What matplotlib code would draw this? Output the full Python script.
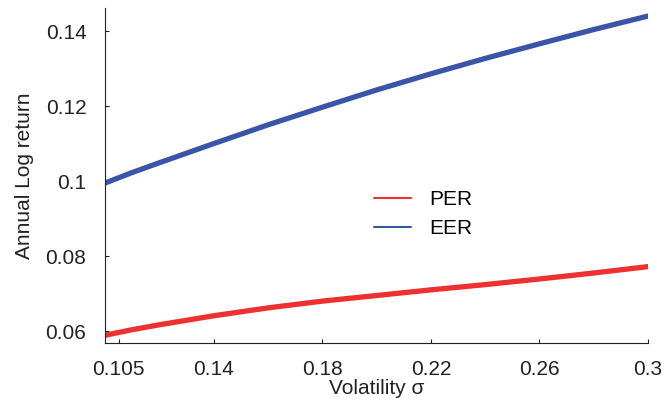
import matplotlib
matplotlib.use('Agg')
import matplotlib.pyplot as plt
from matplotlib.ticker import FuncFormatter

plt.rcParams['font.family'] = ['Liberation Sans', 'DejaVu Sans']

# Volatility grid and returns
volatility = [0.10, 0.11, 0.12, 0.14, 0.16, 0.18, 0.20, 0.22, 0.24, 0.26, 0.28, 0.30]
per = [0.0589, 0.0604, 0.0617, 0.0641, 0.0662, 0.0680, 0.0695, 0.0710, 0.0724, 0.0739, 0.0755, 0.0772]
eer = [0.0995, 0.1023, 0.1049, 0.1100, 0.1150, 0.1197, 0.1243, 0.1286, 0.1327, 0.1366, 0.1404, 0.1440]

x_ticks = [0.105, 0.14, 0.18, 0.22, 0.26, 0.3]
y_ticks = [0.06, 0.08, 0.1, 0.12, 0.14]

text_col = '#222222'

fig = plt.figure(figsize=(6.66, 4.08), dpi=100)
ax = fig.add_axes([0.158, 0.159, 0.815, 0.821])

ax.plot(volatility, per, color='#ee3030', lw=3.8, solid_capstyle='round', label='PER')
ax.plot(volatility, eer, color='#3a55a8', lw=3.8, solid_capstyle='round', label='EER')

ax.set_xlim(0.1, 0.3)
ax.set_ylim(0.0568, 0.1461)
ax.set_xticks(x_ticks)
ax.set_yticks(y_ticks)
fmt = FuncFormatter(lambda v, p: '%g' % round(v, 4))
ax.xaxis.set_major_formatter(fmt)
ax.yaxis.set_major_formatter(fmt)

for s in ['top', 'right']:
    ax.spines[s].set_visible(False)
for s in ['left', 'bottom']:
    ax.spines[s].set_linewidth(0.8)
    ax.spines[s].set_color(text_col)

ax.tick_params(direction='in', length=3, width=0.8, color=text_col,
               labelsize=15, labelcolor=text_col)
ax.tick_params(axis='x', pad=12)
ax.tick_params(axis='y', pad=13.5)

ax.set_xlabel('Volatility σ', fontsize=15, color=text_col, labelpad=0)
ax.set_ylabel('Annual Log return', fontsize=15, color=text_col, labelpad=8)

leg = ax.legend(loc='center', bbox_to_anchor=(0.586, 0.385), frameon=False,
                fontsize=15, handlelength=1.75, handletextpad=0.9, labelspacing=0.45)
for line in leg.get_lines():
    line.set_linewidth(1.5)

plt.savefig('out.png', dpi=100)
